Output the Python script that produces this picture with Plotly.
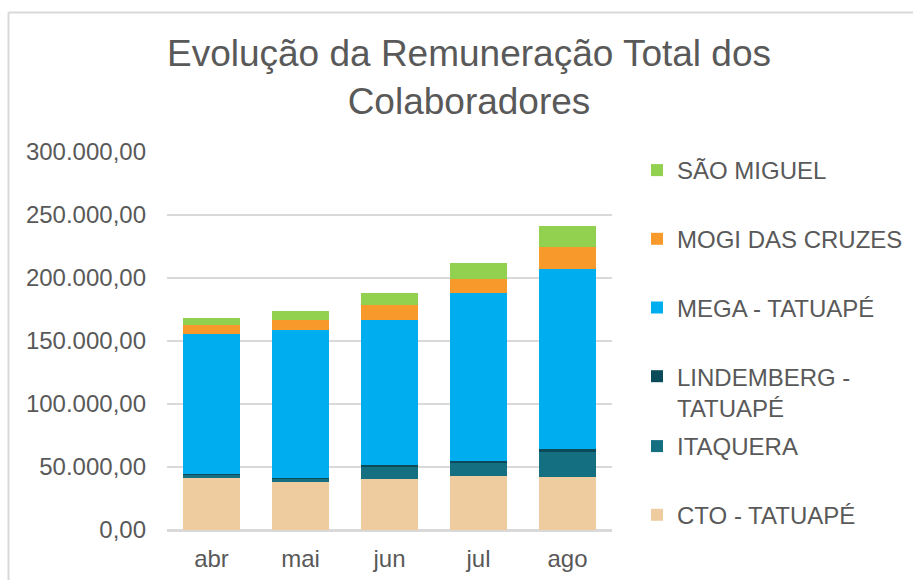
import plotly.graph_objects as go

# Monthly totals per unit (R$)
months = ["abr", "mai", "jun", "jul", "ago"]
cto_tatuape = [41500, 38100, 40200, 42900, 42300]
itaquera = [2400, 2700, 9800, 10300, 19600]
lindemberg_tatuape = [500, 500, 1600, 1800, 2100]
mega_tatuape = [111400, 117700, 115300, 133100, 143400]
mogi_das_cruzes = [6700, 7900, 11700, 11400, 17500]
sao_miguel = [5800, 6700, 9300, 12200, 16400]

y_ticks = [0, 50000, 100000, 150000, 200000, 250000, 300000]

W, H = 913, 580
ML, MR, MT, MB = 167, 301, 152, 50
FONT = "Liberation Sans, Arial, sans-serif"
TEXT = "#595959"
GRID = "#D9D9D9"

# (name, values, colour, legend box, legend rank) in stacking order
series = [
    ("CTO - TATUAPÉ", cto_tatuape, "#EECC9F", "legend2", 6),
    ("ITAQUERA", itaquera, "#146F80", "legend2", 5),
    ("LINDEMBERG -<br>TATUAPÉ", lindemberg_tatuape, "#0B4A58", "legend", 4),
    ("MEGA - TATUAPÉ", mega_tatuape, "#00AEEF", "legend", 3),
    ("MOGI DAS CRUZES", mogi_das_cruzes, "#F79A2B", "legend", 2),
    ("SÃO MIGUEL", sao_miguel, "#92D050", "legend", 1),
]

fig = go.Figure()
for name, vals, color, leg, rank in series:
    fig.add_trace(go.Bar(
        x=months, y=vals, name=name, legendgroup=name, legend=leg,
        legendrank=rank, marker=dict(color=color, line=dict(width=0)),
    ))

legend_common = dict(
    xref="container", yref="container", xanchor="left", yanchor="top",
    x=637 / W, traceorder="grouped", tracegroupgap=34.5, maxheight=560,
    valign="top", font=dict(family=FONT, size=24, color=TEXT),
    bgcolor="rgba(0,0,0,0)", borderwidth=0,
)

plot_w = W - ML - MR
plot_h = H - MT - MB

fig.update_layout(
    width=W, height=H,
    margin=dict(l=ML, r=MR, t=MT, b=MB, autoexpand=False),
    paper_bgcolor="white", plot_bgcolor="white",
    barmode="stack", bargap=0.35,
    separators=",.",
    font=dict(family=FONT, color=TEXT),
    title=dict(
        text="Evolução da Remuneração Total dos<br>Colaboradores",
        xref="container", yref="container",
        x=469 / W, xanchor="center", y=1 - 66 / H, yanchor="top",
        font=dict(family=FONT, size=37, color=TEXT),
    ),
    showlegend=True,
    legend=dict(y=1 - 148 / H, **legend_common),
    legend2=dict(y=1 - 424 / H, **legend_common),
    xaxis=dict(
        automargin=False,
        showgrid=False, showline=True, linecolor=GRID, linewidth=1.5,
        ticks="outside", ticklen=6, tickcolor="rgba(0,0,0,0)",
        tickfont=dict(family=FONT, size=24, color=TEXT),
    ),
    yaxis=dict(
        automargin=False,
        range=[0, 300000], tickvals=y_ticks, tickformat=",.2f",
        showgrid=True, gridcolor=GRID, gridwidth=1.5,
        zeroline=True, zerolinecolor=GRID, zerolinewidth=1.5,
        showline=False, ticklabelstandoff=20,
        tickfont=dict(family=FONT, size=24, color=TEXT),
    ),
)

# Chart-area border: top and left edges (the rest runs off the canvas)
top_y = (H - 12.5 - MB) / plot_h
left_x = (8.5 - ML) / plot_w
fig.add_shape(type="line", xref="paper", yref="paper",
              x0=left_x, x1=(W + 10 - ML) / plot_w, y0=top_y, y1=top_y,
              line=dict(color=GRID, width=2))
fig.add_shape(type="line", xref="paper", yref="paper",
              x0=left_x, x1=left_x, y0=-(MB + 10) / plot_h, y1=top_y,
              line=dict(color=GRID, width=2))

fig.write_html("out.html")
